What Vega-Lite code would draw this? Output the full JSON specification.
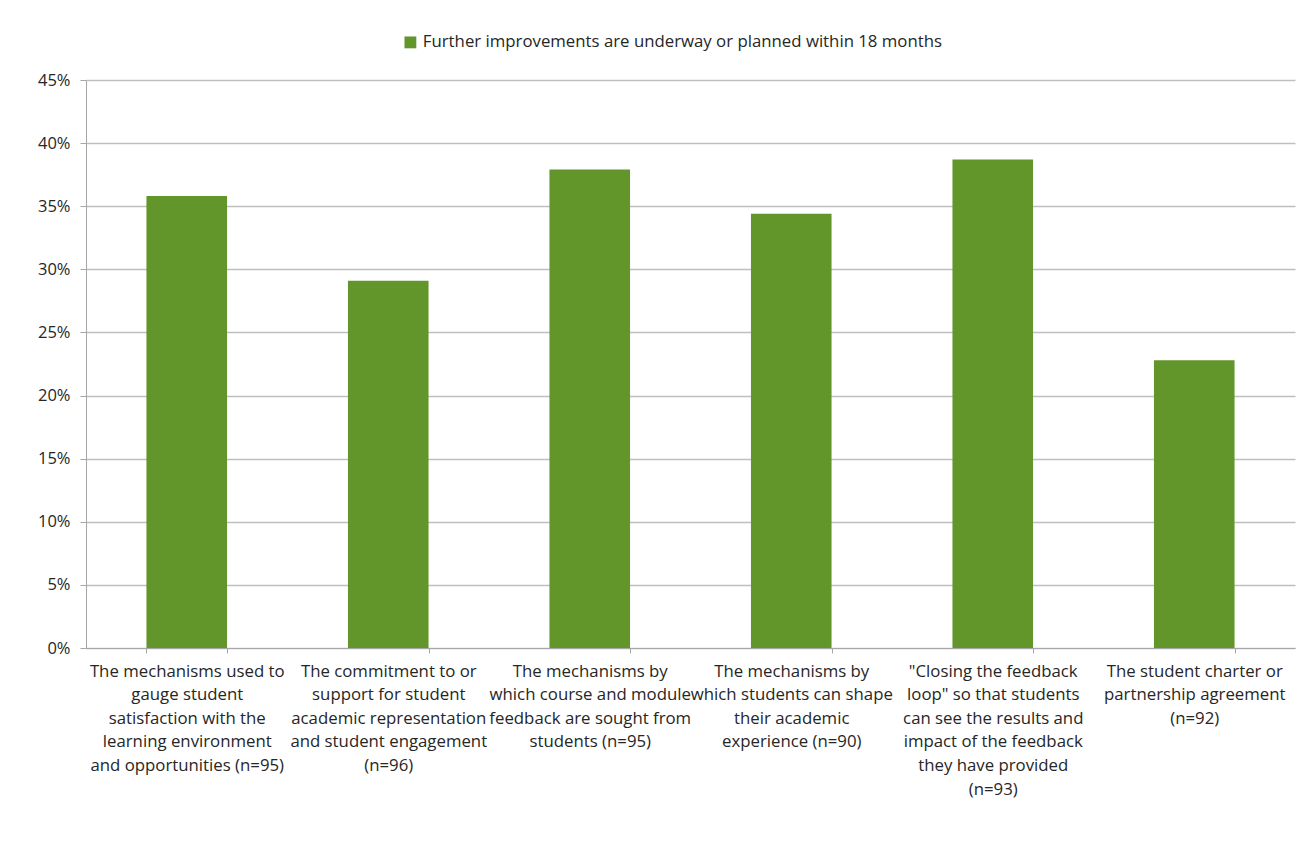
{
  "$schema": "https://vega.github.io/schema/vega-lite/v6.json",
  "autosize": "none",
  "width": 1209,
  "height": 568,
  "padding": {"left": 86, "top": 80, "right": 14, "bottom": 195},
  "background": "white",
  "data": {
    "values": [
      {"category": "The mechanisms used to|gauge student|satisfaction with the|learning environment|and opportunities (n=95)", "value": 0.358, "series": "Further improvements are underway or planned within 18 months"},
      {"category": "The commitment to or|support for student|academic representation|and student engagement|(n=96)", "value": 0.291, "series": "Further improvements are underway or planned within 18 months"},
      {"category": "The mechanisms by|which course and module|feedback are sought from|students (n=95)", "value": 0.379, "series": "Further improvements are underway or planned within 18 months"},
      {"category": "The mechanisms by|which students can shape|their academic|experience (n=90)", "value": 0.344, "series": "Further improvements are underway or planned within 18 months"},
      {"category": "\"Closing the feedback|loop\" so that students|can see the results and|impact of the feedback|they have provided|(n=93)", "value": 0.387, "series": "Further improvements are underway or planned within 18 months"},
      {"category": "The student charter or|partnership agreement|(n=92)", "value": 0.228, "series": "Further improvements are underway or planned within 18 months"}
    ]
  },
  "mark": {"type": "bar", "cornerRadius": 0},
  "encoding": {
    "x": {
      "field": "category",
      "type": "nominal",
      "sort": null,
      "scale": {"paddingInner": 0.6, "paddingOuter": 0.3},
      "axis": {
        "title": null,
        "labelAngle": 0,
        "labelExpr": "split(datum.label, '|')",
        "labelFont": "Open Sans",
        "labelFontSize": 16.8,
        "labelLineHeight": 23.6,
        "labelColor": "#262626",
        "labelPadding": 10,
        "labelLimit": 0,
        "tickBand": "extent",
        "tickSize": 5,
        "tickColor": "#A6A6A6",
        "domainColor": "#A6A6A6",
        "grid": false
      }
    },
    "y": {
      "field": "value",
      "type": "quantitative",
      "scale": {"domain": [0, 0.45], "nice": false},
      "axis": {
        "title": null,
        "format": ".0%",
        "values": [0, 0.05, 0.1, 0.15, 0.2, 0.25, 0.3, 0.35, 0.4, 0.45],
        "labelFont": "Open Sans",
        "labelFontSize": 16.5,
        "labelColor": "#262626",
        "labelPadding": 10,
        "tickSize": 6,
        "tickColor": "#A6A6A6",
        "domainColor": "#A6A6A6",
        "gridColor": "#BFBFBF",
        "gridWidth": 1.3
      }
    },
    "color": {
      "field": "series",
      "type": "nominal",
      "scale": {"range": ["#62952A"]},
      "legend": {
        "title": null,
        "orient": "none",
        "legendX": 316,
        "legendY": -46,
        "symbolType": "square",
        "symbolSize": 140,
        "symbolStrokeWidth": 0,
        "labelFont": "Open Sans",
        "labelFontSize": 16.8,
        "labelColor": "#262626",
        "labelLimit": 0
      }
    }
  },
  "config": {
    "view": {"stroke": null}
  }
}
